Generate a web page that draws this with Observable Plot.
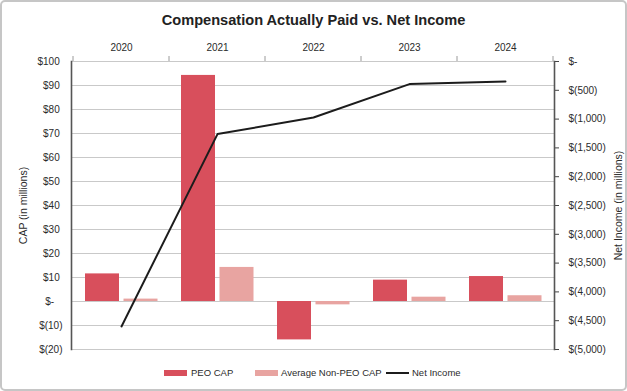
<!DOCTYPE html>
<html><head><meta charset="utf-8">
<script src="https://cdn.jsdelivr.net/npm/d3@7"></script>
<script src="https://cdn.jsdelivr.net/npm/@observablehq/plot@0.6"></script>
<style>
body{margin:0;background:#fff;font-family:"Liberation Sans",Arial,sans-serif;}
#wrap{position:relative;width:627px;height:391px;overflow:hidden;background:#fff;}
#border{position:absolute;left:0;top:0;width:627px;height:391px;box-sizing:border-box;border:2px solid #c6c6c6;border-radius:5px;pointer-events:none;}
#title{position:absolute;left:0;top:11px;width:627px;text-align:center;font-weight:bold;font-size:14.6px;color:#222;line-height:18px;}
#chart{position:absolute;left:0;top:34px;}
.lg{position:absolute;font-size:9.5px;color:#2b2b2b;line-height:12px;top:366.5px;white-space:nowrap;}
.sw{position:absolute;}
</style></head>
<body><div id="wrap">
<div id="title">Compensation Actually Paid vs. Net Income</div>
<div id="chart"></div>
<div id="legend"></div>
<div id="border"></div>
</div>
<script>
const years = ["2020", "2021", "2022", "2023", "2024"];
const peoCap = [11.5, 94.2, -16.0, 8.9, 10.4];
const nonPeoCap = [1.0, 14.2, -1.4, 1.8, 2.4];
const netIncome = [-4600, -1260, -972, -392, -347];
const capTicks = [-20, -10, 0, 10, 20, 30, 40, 50, 60, 70, 80, 90, 100];
const netTicks = [0, -500, -1000, -1500, -2000, -2500, -3000, -3500, -4000, -4500, -5000];
const seriesNames = ["PEO CAP", "Average Non-PEO CAP", "Net Income"];
const axisTitles = ["CAP (in millions)", "Net Income (in millions)"];

const peoColor = "#d84f5c", nonPeoColor = "#e8a4a1", lineColor = "#1c1c1c";
const capDomain = [-20, 100], netDomain = [-5000, 0];
const toCap = n => capDomain[0] + (n - netDomain[0]) * (capDomain[1] - capDomain[0]) / (netDomain[1] - netDomain[0]);
const toNet = v => netDomain[0] + (v - capDomain[0]) * (netDomain[1] - netDomain[0]) / (capDomain[1] - capDomain[0]);

const rows = years.map((year, i) => ({year, peo: peoCap[i], nonPeo: nonPeoCap[i], net: netIncome[i]}));

const fmtCap = v => v === 0 ? "$-\u2008\u2008\u2008" : v < 0 ? `$(${-v})` : `$${v}\u2008`;
const fmtNet = v => { const n = Math.round(toNet(v)); return n === 0 ? "$-" : `$(${d3.format(",")(-n)})`; };

const boundaryTicks = (index, scales, values, dims) => {
  const x = scales.x;
  const bw = x.bandwidth ? x.bandwidth() : (dims.width - dims.marginLeft - dims.marginRight) / years.length;
  const edges = years.map(y => x(y)).concat([x(years[years.length - 1]) + bw]);
  const g = d3.create("svg:g").attr("stroke", "#9a9a9a").attr("stroke-width", 1);
  g.selectAll("line").data(edges).join("line")
    .attr("x1", d => d).attr("x2", d => d)
    .attr("y1", dims.marginTop - 5).attr("y2", dims.marginTop);
  return g.node();
};

const plot = Plot.plot({
  width: 627, height: 326,
  marginTop: 27, marginBottom: 11, marginLeft: 71, marginRight: 73,
  x: {domain: years, padding: 0},
  y: {domain: capDomain},
  style: {fontFamily: "'Liberation Sans', Arial, sans-serif", fontSize: "10px", color: "#2b2b2b", background: "transparent"},
  marks: [
    Plot.gridY(capTicks, {stroke: "#c9c9c9", strokeOpacity: 1, strokeWidth: 1.2}),
    Plot.barY(rows, {x: "year", y: "peo", fill: peoColor, insetLeft: 12, insetRight: 50}),
    Plot.barY(rows, {x: "year", y: "nonPeo", fill: nonPeoColor, insetLeft: 50.5, insetRight: 11.5}),
    Plot.lineY(rows, {x: "year", y: d => toCap(d.net), stroke: lineColor, strokeWidth: 2}),
    Plot.axisX({anchor: "top", tickSize: 0, tickPadding: 11, label: null}),
    boundaryTicks,
    Plot.axisY(capTicks, {anchor: "left", tickSize: 0, tickPadding: 9, tickFormat: fmtCap, label: null}),
    Plot.axisY(netTicks.map(toCap), {anchor: "right", tickSize: 4, tickPadding: 10, tickFormat: fmtNet, stroke: "#444", label: null}),
    Plot.text([axisTitles[0]], {frameAnchor: "left", dx: -48, rotate: -90, text: d => d, fontSize: 10.5, fill: "#2b2b2b", textAnchor: "middle", lineAnchor: "middle"}),
    Plot.text([axisTitles[1]], {frameAnchor: "right", dx: 64, rotate: -90, text: d => d, fontSize: 10.5, fill: "#2b2b2b", textAnchor: "middle", lineAnchor: "middle"}),
    Plot.frame({anchor: "left", stroke: "#555", strokeWidth: 1.6}),
    Plot.frame({anchor: "right", stroke: "#555", strokeWidth: 1.6})
  ]
});
document.getElementById("chart").appendChild(plot);

const legend = document.getElementById("legend");
const items = [
  {name: seriesNames[0], color: peoColor, sx: 164, tx: 191, h: 6},
  {name: seriesNames[1], color: nonPeoColor, sx: 255, tx: 281, h: 6},
  {name: seriesNames[2], color: lineColor, sx: 386, tx: 412, h: 2}
];
for (const it of items) {
  const s = document.createElement("div");
  s.className = "sw";
  s.style.cssText = `left:${it.sx}px;top:${372.5 - it.h / 2}px;width:23px;height:${it.h}px;background:${it.color};`;
  legend.appendChild(s);
  const t = document.createElement("div");
  t.className = "lg";
  t.style.left = it.tx + "px";
  t.textContent = it.name;
  legend.appendChild(t);
}
</script>
</body></html>
